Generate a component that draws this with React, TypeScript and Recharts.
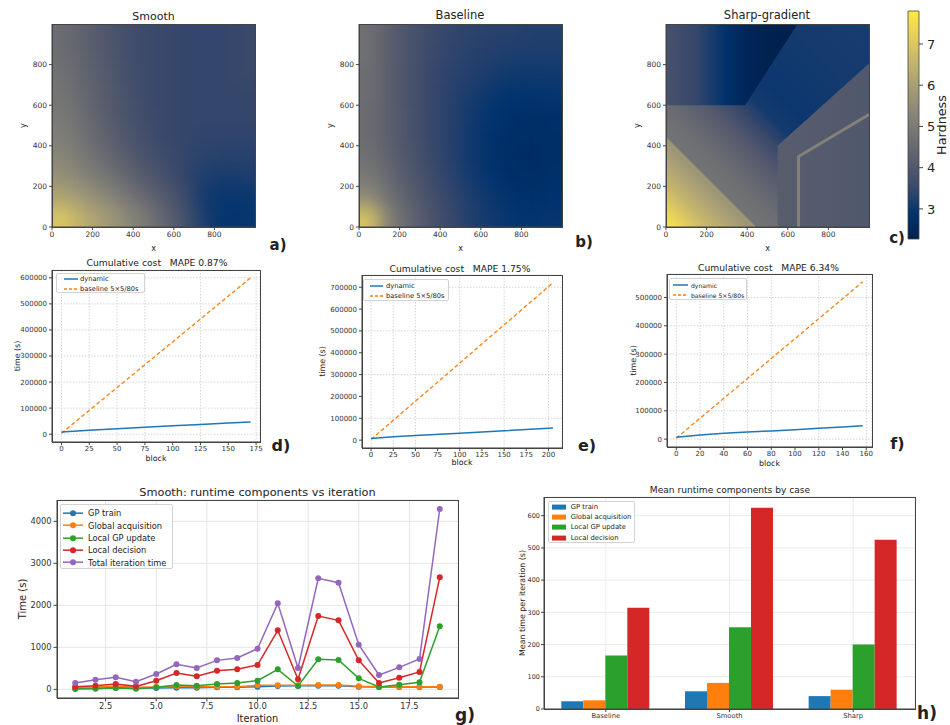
import React from 'react';
import {
  ScatterChart, Scatter, ComposedChart, Area, LineChart, Line, BarChart, Bar, XAxis, YAxis, CartesianGrid, Label,
} from 'recharts';

const FONT = '"DejaVu Sans", sans-serif';
const INK = '#222';
const SPINE = '#444';
const TAB = { blue: '#1f77b4', orange: '#ff7f0e', green: '#2ca02c', red: '#d62728', purple: '#9467bd' };

// ---------- hardness maps a, b (coarse grids; first row = top, y near 1000) ----------
const smoothHardness = [
  [4.6, 4.3, 4.0, 3.75, 3.6, 3.5, 3.45, 3.45, 3.45, 3.5],
  [4.65, 4.35, 4.05, 3.75, 3.6, 3.5, 3.45, 3.45, 3.45, 3.5],
  [4.75, 4.4, 4.1, 3.8, 3.6, 3.5, 3.45, 3.45, 3.45, 3.5],
  [4.85, 4.5, 4.15, 3.85, 3.6, 3.5, 3.45, 3.45, 3.45, 3.45],
  [4.95, 4.6, 4.2, 3.9, 3.65, 3.5, 3.45, 3.45, 3.45, 3.45],
  [5.1, 4.75, 4.35, 4.0, 3.7, 3.5, 3.45, 3.4, 3.4, 3.4],
  [5.3, 4.95, 4.55, 4.2, 3.85, 3.6, 3.45, 3.35, 3.3, 3.3],
  [5.6, 5.25, 4.9, 4.5, 4.1, 3.75, 3.45, 3.2, 3.15, 3.2],
  [6.1, 5.8, 5.4, 4.95, 4.5, 4.05, 3.6, 3.1, 2.95, 3.0],
  [7.0, 6.4, 5.95, 5.5, 5.0, 4.4, 3.8, 3.2, 2.9, 2.95],
];

const baselineHardness = [
  [4.7, 4.2, 3.85, 3.6, 3.45, 3.35, 3.3, 3.3, 3.25, 3.25],
  [4.7, 4.2, 3.85, 3.55, 3.4, 3.3, 3.25, 3.2, 3.2, 3.2],
  [4.65, 4.2, 3.8, 3.5, 3.35, 3.25, 3.15, 3.05, 3.05, 3.05],
  [4.65, 4.2, 3.8, 3.5, 3.3, 3.15, 3.0, 2.9, 2.9, 2.95],
  [4.6, 4.2, 3.85, 3.5, 3.3, 3.1, 2.9, 2.8, 2.75, 2.8],
  [4.6, 4.2, 3.85, 3.5, 3.3, 3.05, 2.85, 2.75, 2.7, 2.75],
  [4.7, 4.3, 3.9, 3.55, 3.3, 3.05, 2.85, 2.7, 2.65, 2.75],
  [4.95, 4.45, 4.0, 3.65, 3.35, 3.1, 2.9, 2.75, 2.7, 2.8],
  [5.4, 4.7, 4.2, 3.75, 3.45, 3.2, 3.0, 2.85, 2.8, 2.85],
  [6.9, 5.1, 4.4, 3.9, 3.5, 3.25, 3.05, 2.95, 2.9, 2.95],
];

// ---------- hardness map c: region outlines (x, [low, high]) and hardness stops along each region ----------
const sharpPlate = [{ x: 0, band: [0, 1000] }, { x: 1000, band: [0, 1000] }];
const sharpPlateStops = [[0, 5.3], [0.2, 4.85], [0.3, 4.6], [0.4, 4.05], [0.47, 3.5], [0.53, 3.1], [0.6, 3.0], [0.8, 3.1], [1, 3.15]];
const sharpTopLeft = [{ x: 0, band: [600, 1000] }, { x: 390, band: [600, 1000] }, { x: 648, band: [1000, 1000] }];
const sharpTopLeftStops = [[0, 3.8], [0.23, 3.45], [0.39, 3.05], [0.46, 2.82], [0.54, 2.62], [0.62, 2.47], [0.77, 2.35], [1, 2.28]];
const sharpRightBlock = [{ x: 550, band: [0, 400] }, { x: 1000, band: [0, 805] }];
const sharpRightBlockStops = [[0, 4.15], [1, 3.98]];
const sharpCorner = [{ x: 0, band: [0, 445] }, { x: 445, band: [0, 0] }];
const sharpCornerStops = [[0, 7.75], [0.1, 7.25], [0.25, 6.55], [0.4, 6.0], [0.5, 5.65]];
const sharpSeam = [{ x: 653, y: 0 }, { x: 653, y: 347 }, { x: 1000, y: 554 }];
const sharpSeamHardness = 5.3;

const HEAT_MIN = 2.27;
const HEAT_MAX = 7.8;
const heatTicks = [0, 200, 400, 600, 800];
const colorbarTicks = [3, 4, 5, 6, 7];
const CIVIDIS = ['#00204d', '#00336f', '#39486b', '#575c6d', '#707173', '#8a8779', '#a69d75', '#c4b56c', '#e4cf5b', '#ffea46'];

// ---------- cumulative cost (d, e, f) ----------
const smoothBlocks = [0, 25, 50, 75, 100, 125, 150, 170];
const smoothDynamic = [8000, 15000, 21000, 26500, 32000, 37000, 43000, 47000];
const smoothBaseBlocks = [0, 170];
const smoothBaseline = [3530, 600000];

const baseBlocks = [0, 25, 50, 100, 150, 205];
const baseDynamic = [8000, 15000, 21000, 32000, 43000, 55000];
const baseBaseBlocks = [0, 205];
const baseBaseline = [3530, 720000];

const sharpBlocks = [0, 20, 40, 60, 80, 100, 120, 140, 157];
const sharpDynamic = [7000, 15000, 21000, 25000, 29000, 33000, 38000, 43000, 47000];
const sharpBaseBlocks = [0, 157];
const sharpBaseline = [3530, 555000];

// ---------- runtime components vs iteration (g) ----------
const iterations = [1, 2, 3, 4, 5, 6, 7, 8, 9, 10, 11, 12, 13, 14, 15, 16, 17, 18, 19];
const gpTrain = [24, 32, 40, 32, 32, 40, 40, 48, 48, 63, 79, 87, 87, 87, 63, 56, 56, 56, 56];
const globalAcq = [40, 56, 71, 48, 56, 71, 63, 63, 63, 95, 95, 95, 103, 103, 71, 63, 63, 63, 63];
const localGpUpdate = [8, 16, 32, 16, 48, 103, 87, 127, 151, 206, 476, 79, 714, 698, 262, 56, 111, 167, 1500];
const localDecision = [63, 87, 127, 71, 206, 389, 310, 444, 476, 579, 1405, 238, 1746, 1643, 690, 151, 278, 413, 2667];
const totalIteration = [151, 230, 286, 183, 365, 595, 508, 690, 746, 968, 2048, 508, 2643, 2540, 1063, 341, 524, 722, 4294];
const iterTicks = [2.5, 5, 7.5, 10, 12.5, 15, 17.5];
const timeTicks = [0, 1000, 2000, 3000, 4000];

// ---------- mean runtime by case (h) ----------
const cases = ['Baseline', 'Smooth', 'Sharp'];
const meanGpTrain = [24, 55, 40];
const meanGlobalAcq = [27, 81, 60];
const meanLocalGp = [166, 254, 200];
const meanLocalDecision = [314, 625, 525];
const meanTicks = [0, 100, 200, 300, 400, 500, 600];

function hexRgb(h: string) {
  return [1, 3, 5].map((i) => parseInt(h.slice(i, i + 2), 16));
}

function cividis(v: number) {
  const t = Math.min(1, Math.max(0, (v - HEAT_MIN) / (HEAT_MAX - HEAT_MIN)));
  const p = t * (CIVIDIS.length - 1);
  const i = Math.min(CIVIDIS.length - 2, Math.floor(p));
  const f = p - i;
  const a = hexRgb(CIVIDIS[i]);
  const b = hexRgb(CIVIDIS[i + 1]);
  const c = a.map((ai, k) => Math.round(ai + (b[k] - ai) * f));
  return `rgb(${c[0]},${c[1]},${c[2]})`;
}

const pairs = (xs: number[], ys: number[]) => xs.map((x, i) => ({ block: x, time: ys[i] }));

const axisStyle = { stroke: SPINE };
const tickFont = (size: number) => ({ fontSize: size, fill: '#333', fontFamily: FONT });

function Txt({ x, y, size, children, bold }: any) {
  return (
    <div
      style={{
        position: 'absolute', left: x, top: y, transform: 'translate(-50%, -50%)',
        fontSize: size, fontWeight: bold ? 700 : 400, whiteSpace: 'pre', lineHeight: 1,
        color: INK, fontFamily: FONT,
      }}
    >
      {children}
    </div>
  );
}

// axes box outline
function Frame({ x, y, w, h }: any) {
  return (
    <div style={{
      position: 'absolute', left: x - 0.5, top: y - 0.5, width: w + 1, height: h + 1,
      boxSizing: 'border-box', border: `1px solid ${SPINE}`, pointerEvents: 'none',
    }} />
  );
}

type LegendItem = { label: string; color: string; kind: 'line' | 'dash' | 'dot' | 'patch' };

function LegendBox({ left, top, width, height, items, rowH, padTop, padLeft, sampleW, gap, fontSize }: any) {
  return (
    <div
      style={{
        position: 'absolute', left, top, width, height, boxSizing: 'border-box',
        border: '1px solid #d3d3d3', borderRadius: 2, background: 'rgba(255,255,255,0.85)',
        fontFamily: FONT, fontSize, color: INK,
      }}
    >
      {items.map((it: LegendItem, i: number) => (
        <div
          key={it.label}
          style={{
            position: 'absolute', left: padLeft, top: padTop + i * rowH, height: rowH,
            display: 'flex', alignItems: 'center', whiteSpace: 'nowrap',
          }}
        >
          <svg width={sampleW} height={rowH} style={{ marginRight: gap, flex: 'none' }}>
            {it.kind === 'patch' ? (
              <rect x={0} y={rowH / 2 - 2.5} width={sampleW} height={5} fill={it.color} />
            ) : (
              <line
                x1={0} x2={sampleW} y1={rowH / 2} y2={rowH / 2}
                stroke={it.color} strokeWidth={1.5}
                strokeDasharray={it.kind === 'dash' ? '3 2' : undefined}
              />
            )}
            {it.kind === 'dot' && <circle cx={sampleW / 2} cy={rowH / 2} r={3} fill={it.color} />}
          </svg>
          <span>{it.label}</span>
        </div>
      ))}
    </div>
  );
}

const HEAT_PLOT = 203;
const HEAT_LEFT = 52;
const HEAT_TOP = 24;
const HEAT_PAD = 40;

function heatAxes() {
  return [
    <XAxis key="x" type="number" dataKey="x" domain={[0, 1000]} ticks={heatTicks} height={29}
      tick={tickFont(7.5)} tickSize={3} tickMargin={2} tickLine={axisStyle} axisLine={axisStyle}>
      <Label value="x" position="insideBottom" offset={5} style={{ fontSize: 8, fill: INK, fontFamily: FONT }} />
    </XAxis>,
    <YAxis key="y" type="number" dataKey="y" domain={[0, 1000]} ticks={heatTicks} width={52}
      tick={tickFont(7.5)} tickSize={3} tickMargin={2} tickLine={axisStyle} axisLine={axisStyle}>
      <Label value="y" angle={-90} position="insideLeft" offset={23}
        style={{ fontSize: 8, fill: INK, fontFamily: FONT, textAnchor: 'middle' }} />
    </YAxis>,
  ];
}

// smooth field: grid cells, softened and cropped to the axes box
function SoftHeatmap({ grid, left }: { grid: number[][]; left: number }) {
  const nRows = grid.length;
  const nCols = grid[0].length;
  const cells = grid.flatMap((row, r) =>
    row.map((v, c) => ({ x: ((c + 0.5) * 1000) / nCols, y: 1000 - ((r + 0.5) * 1000) / nRows, v, r, c })),
  );
  const cw = HEAT_PLOT / nCols;
  const ch = HEAT_PLOT / nRows;
  const ext = 32;
  const renderCell = (p: any) => {
    const { cx, cy, payload } = p;
    let x0 = cx - cw / 2;
    let x1 = cx + cw / 2 + 0.6;
    let y0 = cy - ch / 2;
    let y1 = cy + ch / 2 + 0.6;
    if (payload.c === 0) x0 -= ext;
    if (payload.c === nCols - 1) x1 += ext;
    if (payload.r === 0) y0 -= ext;
    if (payload.r === nRows - 1) y1 += ext;
    return <rect x={x0} y={y0} width={x1 - x0} height={y1 - y0} fill={cividis(payload.v)} />;
  };
  return (
    <>
      <div style={{ position: 'absolute', left: left + HEAT_LEFT, top: HEAT_TOP, width: HEAT_PLOT, height: HEAT_PLOT, overflow: 'hidden' }}>
        <div style={{ position: 'absolute', left: -HEAT_PAD, top: -HEAT_PAD, filter: 'blur(9px)' }}>
          <ScatterChart width={HEAT_PLOT + 2 * HEAT_PAD} height={HEAT_PLOT + 2 * HEAT_PAD}
            margin={{ top: HEAT_PAD, right: HEAT_PAD, bottom: HEAT_PAD, left: HEAT_PAD }}>
            <XAxis type="number" dataKey="x" domain={[0, 1000]} hide />
            <YAxis type="number" dataKey="y" domain={[0, 1000]} hide />
            <Scatter data={cells} shape={renderCell} isAnimationActive={false} />
          </ScatterChart>
        </div>
      </div>
      <div style={{ position: 'absolute', left, top: 0 }}>
        <ScatterChart width={290} height={256} margin={{ top: HEAT_TOP, right: 35, bottom: 0, left: 0 }}>
          {heatAxes()}
          <Scatter data={cells} shape={() => <g />} isAnimationActive={false} />
        </ScatterChart>
      </div>
      <Frame x={left + HEAT_LEFT} y={HEAT_TOP} w={HEAT_PLOT} h={HEAT_PLOT} />
    </>
  );
}

// sharp-gradient field: filled regions
function SharpHeatmap({ left }: { left: number }) {
  return (
    <>
      <div style={{ position: 'absolute', left, top: 0 }}>
        <ComposedChart width={290} height={256} margin={{ top: HEAT_TOP, right: 35, bottom: 0, left: 0 }}>
          {heatAxes()}
          <Area data={sharpPlate} dataKey="band" type="linear" stroke="none" fill="url(#g-plate)" fillOpacity={1}
            activeDot={false} isAnimationActive={false} />
          <Area data={sharpTopLeft} dataKey="band" type="linear" stroke="none" fill="url(#g-topleft)" fillOpacity={1}
            activeDot={false} isAnimationActive={false} />
          <Area data={sharpRightBlock} dataKey="band" type="linear" stroke="none" fill="url(#g-right)" fillOpacity={1}
            activeDot={false} isAnimationActive={false} />
          <Area data={sharpCorner} dataKey="band" type="linear" stroke="none" fill="url(#g-corner)" fillOpacity={1}
            activeDot={false} isAnimationActive={false} />
          <Line data={sharpSeam} dataKey="y" type="linear" stroke={cividis(sharpSeamHardness)} strokeWidth={3}
            strokeOpacity={0.9} dot={false} activeDot={false} isAnimationActive={false} />
        </ComposedChart>
      </div>
      <Frame x={left + HEAT_LEFT} y={HEAT_TOP} w={HEAT_PLOT} h={HEAT_PLOT} />
    </>
  );
}

function Grad({ id, stops, diag }: { id: string; stops: number[][]; diag?: boolean }) {
  return (
    <linearGradient id={id} x1="0" y1={diag ? '1' : '0'} x2="1" y2="0">
      {stops.map(([o, v]) => (
        <stop key={o} offset={o} stopColor={cividis(v)} />
      ))}
    </linearGradient>
  );
}

function CostPanel(props: any) {
  const { left, top, marginTop, marginRight, xAxisH, xDomain, xTicks, yDomain, yTicks, dynamic, baseline, yLabelOffset, xLabelOffset } = props;
  return (
    <div style={{ position: 'absolute', left, top }}>
      <LineChart width={300} height={215} margin={{ top: marginTop, right: marginRight, bottom: 0, left: 0 }}>
        <CartesianGrid stroke="#d6d6d6" strokeDasharray="1.5 1.5" />
        <XAxis type="number" dataKey="block" domain={xDomain} ticks={xTicks} height={xAxisH}
          tick={tickFont(7)} tickSize={3} tickMargin={1} tickLine={axisStyle} axisLine={axisStyle}>
          <Label value="block" position="insideBottom" offset={xLabelOffset} style={{ fontSize: 7.9, fill: INK, fontFamily: FONT }} />
        </XAxis>
        <YAxis type="number" dataKey="time" domain={yDomain} ticks={yTicks} width={52}
          tick={tickFont(7)} tickSize={3} tickMargin={2} tickLine={axisStyle} axisLine={axisStyle}>
          <Label value="time (s)" angle={-90} position="insideLeft" offset={yLabelOffset}
            style={{ fontSize: 7.9, fill: INK, fontFamily: FONT, textAnchor: 'middle' }} />
        </YAxis>
        <Line data={baseline} dataKey="time" stroke={TAB.orange} strokeWidth={1.3} strokeDasharray="4 2.5"
          dot={false} activeDot={false} isAnimationActive={false} />
        <Line data={dynamic} dataKey="time" stroke={TAB.blue} strokeWidth={1.5}
          dot={false} activeDot={false} isAnimationActive={false} />
      </LineChart>
    </div>
  );
}

const costLegend: LegendItem[] = [
  { label: 'dynamic', color: TAB.blue, kind: 'line' },
  { label: 'baseline 5×5/80s', color: TAB.orange, kind: 'dash' },
];

const runtimeRows = iterations.map((it, i) => ({
  it, gp: gpTrain[i], ga: globalAcq[i], lg: localGpUpdate[i], ld: localDecision[i], tot: totalIteration[i],
}));

const runtimeSeries = [
  { key: 'gp', label: 'GP train', color: TAB.blue },
  { key: 'ga', label: 'Global acquisition', color: TAB.orange },
  { key: 'lg', label: 'Local GP update', color: TAB.green },
  { key: 'ld', label: 'Local decision', color: TAB.red },
  { key: 'tot', label: 'Total iteration time', color: TAB.purple },
];

const meanRows = cases.map((c, i) => ({
  name: c, gp: meanGpTrain[i], ga: meanGlobalAcq[i], lg: meanLocalGp[i], ld: meanLocalDecision[i],
}));

const colorbarData = [{ name: 'cb', range: [HEAT_MIN, HEAT_MAX] }];

export default function App() {
  return (
    <div style={{ position: 'relative', width: 950, height: 725, background: '#fff', overflow: 'hidden', fontFamily: FONT }}>
      <style>{'body { margin: 0; }'}</style>
      <svg width={0} height={0} style={{ position: 'absolute' }}>
        <defs>
          <linearGradient id="cividis-bar" x1="0" y1="1" x2="0" y2="0">
            {CIVIDIS.map((c, i) => (
              <stop key={c} offset={i / (CIVIDIS.length - 1)} stopColor={c} />
            ))}
          </linearGradient>
          <Grad id="g-plate" stops={sharpPlateStops} diag />
          <Grad id="g-topleft" stops={sharpTopLeftStops} />
          <Grad id="g-right" stops={sharpRightBlockStops} />
          <Grad id="g-corner" stops={sharpCornerStops} diag />
        </defs>
      </svg>

      {/* a-c: hardness maps */}
      <SoftHeatmap grid={smoothHardness} left={0} />
      <SoftHeatmap grid={baselineHardness} left={307} />
      <SharpHeatmap left={614} />
      <Txt x={153.5} y={16} size={11}>Smooth</Txt>
      <Txt x={460} y={16} size={11.5}>Baseline</Txt>
      <Txt x={767} y={16} size={11.5}>Sharp-gradient</Txt>

      {/* colorbar */}
      <div style={{ position: 'absolute', left: 890, top: 0 }}>
        <BarChart width={75} height={250} data={colorbarData} margin={{ top: 11, right: 0, bottom: 11, left: 18 }} barCategoryGap={0}>
          <XAxis dataKey="name" hide />
          <YAxis orientation="right" type="number" domain={[HEAT_MIN, HEAT_MAX]} ticks={colorbarTicks} width={46}
            tick={{ fontSize: 13, fill: INK, fontFamily: FONT }} tickSize={4} tickMargin={4} tickLine={axisStyle} axisLine={false}>
            <Label value="Hardness" angle={-90} position="insideRight" offset={24}
              style={{ fontSize: 12.8, fill: INK, fontFamily: FONT, textAnchor: 'middle' }} />
          </YAxis>
          <Bar dataKey="range" fill="url(#cividis-bar)" stroke={SPINE} strokeWidth={0.8} isAnimationActive={false} />
        </BarChart>
      </div>

      {/* d-f: cumulative cost */}
      <CostPanel left={0} top={252} marginTop={18} marginRight={40} xAxisH={25}
        xDomain={[-8.5, 178.5]} xTicks={[0, 25, 50, 75, 100, 125, 150, 175]}
        yDomain={[-30000, 630000]} yTicks={[0, 100000, 200000, 300000, 400000, 500000, 600000]}
        dynamic={pairs(smoothBlocks, smoothDynamic)} baseline={pairs(smoothBaseBlocks, smoothBaseline)}
        yLabelOffset={17} xLabelOffset={6.5} />
      <CostPanel left={310} top={252} marginTop={23} marginRight={48} xAxisH={19}
        xDomain={[-10.25, 215.25]} xTicks={[0, 25, 50, 75, 100, 125, 150, 175, 200]}
        yDomain={[-36000, 756000]} yTicks={[0, 100000, 200000, 300000, 400000, 500000, 600000, 700000]}
        dynamic={pairs(baseBlocks, baseDynamic)} baseline={pairs(baseBaseBlocks, baseBaseline)}
        yLabelOffset={12} xLabelOffset={2} />
      <CostPanel left={615} top={252} marginTop={22} marginRight={43} xAxisH={20}
        xDomain={[-7.85, 164.85]} xTicks={[0, 20, 40, 60, 80, 100, 120, 140, 160]}
        yDomain={[-27750, 582750]} yTicks={[0, 100000, 200000, 300000, 400000, 500000]}
        dynamic={pairs(sharpBlocks, sharpDynamic)} baseline={pairs(sharpBaseBlocks, sharpBaseline)}
        yLabelOffset={18} xLabelOffset={1.5} />
      <Frame x={52} y={270} w={208} h={172} />
      <Frame x={362} y={275} w={200} h={173} />
      <Frame x={667} y={274} w={205} h={173} />
      <Txt x={157} y={263} size={9.2}>{'Cumulative cost   MAPE 0.87%'}</Txt>
      <Txt x={460} y={269} size={9.2}>{'Cumulative cost   MAPE 1.75%'}</Txt>
      <Txt x={768.5} y={268} size={9.2}>{'Cumulative cost   MAPE 6.34%'}</Txt>
      <LegendBox left={56} top={273} width={89} height={20} items={costLegend} rowH={10} padTop={0}
        padLeft={7} sampleW={14} gap={2} fontSize={6.7} />
      <LegendBox left={363} top={279} width={86} height={22} items={costLegend} rowH={10} padTop={0.5}
        padLeft={6} sampleW={13} gap={3} fontSize={6.7} />
      <LegendBox left={669} top={278} width={78} height={22} items={costLegend} rowH={10} padTop={1}
        padLeft={3} sampleW={15} gap={3} fontSize={6.1} />

      {/* g: runtime components vs iteration */}
      <div style={{ position: 'absolute', left: 0, top: 478 }}>
        <LineChart width={480} height={247} data={runtimeRows} margin={{ top: 22, right: 22, bottom: 0, left: 0 }}>
          <CartesianGrid stroke="#e6e6e6" />
          <XAxis type="number" dataKey="it" domain={[0.1, 19.9]} ticks={iterTicks} height={27}
            tickFormatter={(v: number) => v.toFixed(1)}
            tick={tickFont(8.3)} tickSize={3.5} tickMargin={2} tickLine={axisStyle} axisLine={axisStyle}>
            <Label value="Iteration" position="insideBottom" offset={3} style={{ fontSize: 9.8, fill: INK, fontFamily: FONT }} />
          </XAxis>
          <YAxis type="number" domain={[-206, 4508]} ticks={timeTicks} width={57}
            tick={tickFont(8.3)} tickSize={3.5} tickMargin={2} tickLine={axisStyle} axisLine={axisStyle}>
            <Label value="Time (s)" angle={-90} position="insideLeft" offset={22}
              style={{ fontSize: 10, fill: INK, fontFamily: FONT, textAnchor: 'middle' }} />
          </YAxis>
          {runtimeSeries.map((s) => (
            <Line key={s.key} dataKey={s.key} stroke={s.color} strokeWidth={1.5}
              dot={{ r: 3, fill: s.color, stroke: s.color, strokeWidth: 0 }} activeDot={false} isAnimationActive={false} />
          ))}
        </LineChart>
      </div>
      <Frame x={57} y={500} w={401} h={198} />
      <Txt x={257.5} y={493} size={11.3}>Smooth: runtime components vs iteration</Txt>
      <LegendBox left={60} top={504} width={113} height={65}
        items={runtimeSeries.map((s) => ({ label: s.label, color: s.color, kind: 'dot' }))}
        rowH={12.35} padTop={2} padLeft={2} sampleW={20} gap={5} fontSize={8.3} />

      {/* h: mean runtime components by case */}
      <div style={{ position: 'absolute', left: 480, top: 478 }}>
        <BarChart width={470} height={247} data={meanRows} margin={{ top: 19, right: 35, bottom: 0, left: 0 }}
          barCategoryGap="14%" barGap={0}>
          <CartesianGrid stroke="#ececec" />
          <XAxis dataKey="name" height={16} tick={tickFont(6.8)} tickSize={3} tickMargin={1}
            tickLine={axisStyle} axisLine={axisStyle} />
          <YAxis type="number" domain={[0, 658]} ticks={meanTicks} width={64}
            tick={tickFont(6.5)} tickSize={3} tickMargin={1} tickLine={axisStyle} axisLine={axisStyle}>
            <Label value="Mean time per iteration (s)" angle={-90} position="insideLeft" offset={42}
              style={{ fontSize: 7.9, fill: INK, fontFamily: FONT, textAnchor: 'middle' }} />
          </YAxis>
          <Bar dataKey="gp" fill={TAB.blue} isAnimationActive={false} />
          <Bar dataKey="ga" fill={TAB.orange} isAnimationActive={false} />
          <Bar dataKey="lg" fill={TAB.green} isAnimationActive={false} />
          <Bar dataKey="ld" fill={TAB.red} isAnimationActive={false} />
        </BarChart>
      </div>
      <Frame x={544} y={497} w={371} h={212} />
      <Txt x={730} y={491} size={9.1}>Mean runtime components by case</Txt>
      <LegendBox left={548} top={501} width={87} height={42}
        items={runtimeSeries.slice(0, 4).map((s) => ({ label: s.label, color: s.color, kind: 'patch' }))}
        rowH={10.2} padTop={0} padLeft={3} sampleW={14} gap={4.7} fontSize={6.8} />

      {/* panel letters */}
      <Txt x={278} y={244.5} size={15} bold>a)</Txt>
      <Txt x={584} y={241.5} size={15} bold>b)</Txt>
      <Txt x={897} y={237.5} size={15} bold>c)</Txt>
      <Txt x={281} y={445.5} size={16} bold>d)</Txt>
      <Txt x={587} y={445.5} size={16} bold>e)</Txt>
      <Txt x={897.5} y={444} size={16} bold>f)</Txt>
      <Txt x={465} y={715} size={17} bold>g)</Txt>
      <Txt x={927} y={713} size={17} bold>h)</Txt>
    </div>
  );
}
